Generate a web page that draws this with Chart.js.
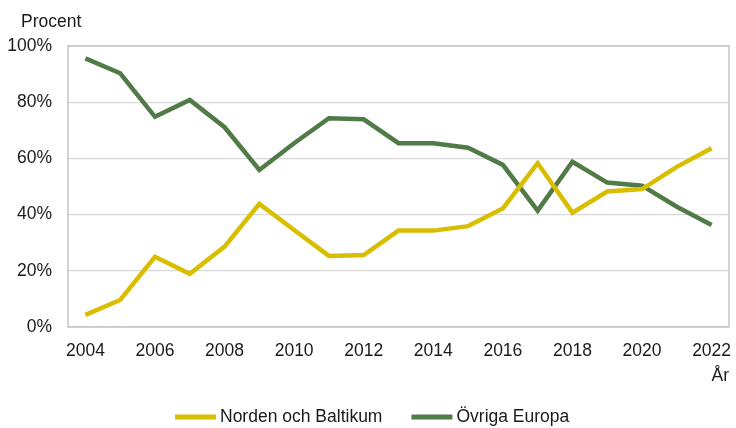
<!DOCTYPE html>
<html>
<head>
<meta charset="utf-8">
<script src="https://cdn.jsdelivr.net/npm/chart.js@4"></script>
<style>
  html, body { margin: 0; padding: 0; background: #fff; }
  #wrap { width: 736px; height: 428px; }
</style>
</head>
<body>
<div id="wrap"><canvas id="andel"></canvas></div>
<script>
var years = ["2004", "2005", "2006", "2007", "2008", "2009", "2010", "2011", "2012", "2013",
             "2014", "2015", "2016", "2017", "2018", "2019", "2020", "2021", "2022"];
var norden = [4.3, 9.6, 25.0, 18.9, 28.6, 43.8, 34.5, 25.3, 25.6, 34.3,
              34.3, 35.9, 42.2, 58.3, 40.7, 48.2, 49.1, 57.0, 63.6];
var ovriga = [95.6, 90.3, 74.8, 80.8, 71.1, 55.9, 65.4, 74.3, 73.9, 65.4,
              65.4, 63.8, 57.7, 41.4, 58.8, 51.4, 50.3, 42.8, 36.3];
var seriesNames = ["Norden och Baltikum", "Övriga Europa"];
var yTicks = [0, 20, 40, 60, 80, 100];

var FONT = "'Liberation Sans', Arial, sans-serif";
var FS = 17.5;
var TXT = '#1a1a1a';

// frame round the plot area, axis captions and the legend drawn by hand
var extras = {
    id: 'extras',
    beforeDatasetsDraw: function (chart) {
        var a = chart.chartArea, c = chart.ctx;
        c.save();
        c.strokeStyle = '#c4c4c4';
        c.lineWidth = 1.5;
        c.strokeRect(a.left, a.top, a.right - a.left, a.bottom - a.top);
        c.restore();
    },
    afterDraw: function (chart) {
        var c = chart.ctx, a = chart.chartArea;
        c.save();
        c.font = FS + 'px ' + FONT;
        c.fillStyle = TXT;
        c.textBaseline = 'alphabetic';
        c.fillText('Procent', 21, 26.5);
        c.textAlign = 'right';
        c.fillText('År', a.right, 380.5);

        // legend
        var x = 175, y = 417;
        c.textAlign = 'left';
        c.textBaseline = 'middle';
        chart.data.datasets.forEach(function (ds) {
            c.fillStyle = ds.borderColor;
            c.fillRect(x, y - 2.5, 41, 5);
            x += 45;
            c.fillStyle = TXT;
            c.fillText(ds.label, x, y);
            x += c.measureText(ds.label).width + 29;
        });
        c.restore();
    }
};

var ctx = document.getElementById('andel').getContext('2d');
var chart = new Chart(ctx, {
    type: 'line',
    data: {
        labels: years,
        datasets: [{
            label: seriesNames[0],
            data: norden,
            borderColor: '#D9BE00',
            backgroundColor: '#D9BE00',
            borderWidth: 4.5,
            pointRadius: 0,
            tension: 0
        }, {
            label: seriesNames[1],
            data: ovriga,
            borderColor: '#507A46',
            backgroundColor: '#507A46',
            borderWidth: 4.5,
            pointRadius: 0,
            tension: 0
        }]
    },
    options: {
        responsive: true,
        maintainAspectRatio: false,
        animation: false,
        layout: { padding: { top: 46, right: 7, left: 0, bottom: 52 } },
        plugins: {
            legend: { display: false },
            tooltip: { enabled: false }
        },
        scales: {
            x: {
                offset: true,
                afterFit: function (s) { s.paddingLeft = 0; s.paddingRight = 0; },
                grid: { display: false, drawTicks: false },
                border: { display: false },
                ticks: {
                    autoSkip: false,
                    maxRotation: 0,
                    padding: 14,
                    color: TXT,
                    font: { family: FONT, size: FS },
                    callback: function (v, i) { return i % 2 === 0 ? years[i] : ''; }
                }
            },
            y: {
                min: yTicks[0],
                max: yTicks[yTicks.length - 1],
                afterFit: function (s) { s.width = 68; },
                afterBuildTicks: function (s) { s.ticks = yTicks.map(function (v) { return { value: v }; }); },
                grid: { color: '#d9d9d9', lineWidth: 1.2, drawTicks: false },
                border: { display: false },
                ticks: {
                    padding: 16,
                    color: TXT,
                    font: { family: FONT, size: FS },
                    callback: function (v) { return v + '%'; }
                }
            }
        }
    },
    plugins: [extras]
});
</script>
</body>
</html>
